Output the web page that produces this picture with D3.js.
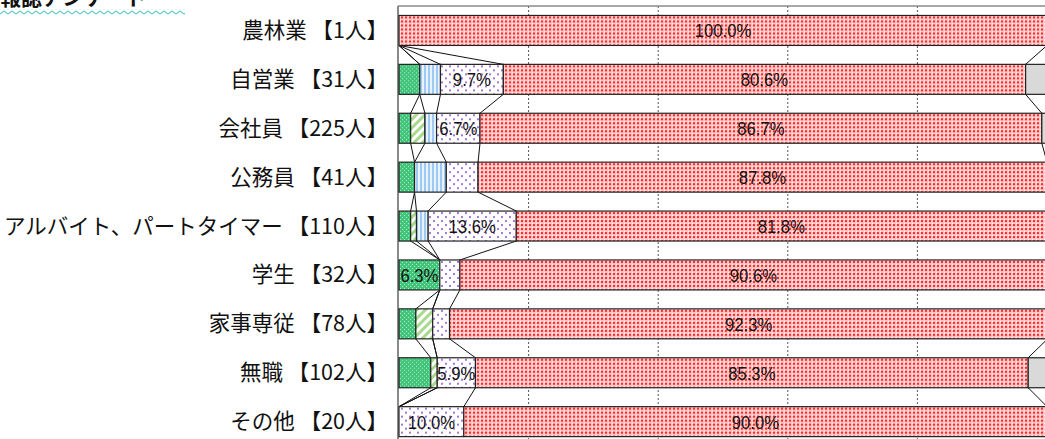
<!DOCTYPE html>
<html>
<head>
<meta charset="utf-8">
<script src="https://cdn.jsdelivr.net/npm/d3@7"></script>
<style>
  body { margin: 0; background: #fff; }
  svg { display: block; }
</style>
</head>
<body>
<div id="chart"></div>
<script>
// rows (top to bottom)
var categories = ["農林業", "自営業", "会社員", "公務員", "アルバイト、パートタイマー", "学生", "家事専従", "無職", "その他"];
var counts = [1, 31, 225, 41, 110, 32, 78, 102, 20];

// six answer series, percent of each row
var seriesNames = ["系列1", "系列2", "系列3", "系列4", "系列5", "系列6"];
var s1 = [0, 3.2, 1.8, 2.4, 1.8, 6.3, 2.6, 4.9, 0];
var s2 = [0, 0, 2.2, 0, 0.9, 0, 2.6, 1.0, 0];
var s3 = [0, 3.2, 1.8, 4.9, 1.8, 0, 0, 0, 0];
var s4 = [0, 9.7, 6.7, 4.9, 13.6, 3.1, 2.6, 5.9, 10.0];
var s5 = [100.0, 80.6, 86.7, 87.8, 81.8, 90.6, 92.3, 85.3, 90.0];
var s6 = [0, 3.2, 0.9, 0, 0, 0, 0, 2.9, 0];
var xTicks = [0, 20, 40, 60, 80, 100];

var title = "情報誌アンケート";

var svgW = 1045, svgH = 439;
var margin = { top: 6, left: 399 };

var svg = d3.select("#chart").append("svg")
    .attr("width", svgW).attr("height", svgH);

var defs = svg.append("defs");

// green: small checks
var p0 = defs.append("pattern").attr("id", "pat0").attr("patternUnits", "userSpaceOnUse")
    .attr("width", 4).attr("height", 4);
p0.append("rect").attr("width", 4).attr("height", 4).attr("fill", "#3fc47a");
p0.append("rect").attr("x", 0).attr("y", 0).attr("width", 1).attr("height", 1).attr("fill", "#b8ecc9");
p0.append("rect").attr("x", 2).attr("y", 2).attr("width", 1).attr("height", 1).attr("fill", "#b8ecc9");

// light green: diagonal stripes
var p1 = defs.append("pattern").attr("id", "pat1").attr("patternUnits", "userSpaceOnUse")
    .attr("width", 6).attr("height", 6).attr("patternTransform", "rotate(45)");
p1.append("rect").attr("width", 6).attr("height", 6).attr("fill", "#fff");
p1.append("rect").attr("width", 3).attr("height", 6).attr("fill", "#a9d98c");

// light blue: vertical stripes
var p2 = defs.append("pattern").attr("id", "pat2").attr("patternUnits", "userSpaceOnUse")
    .attr("width", 4).attr("height", 4);
p2.append("rect").attr("width", 4).attr("height", 4).attr("fill", "#e8f3ff");
p2.append("rect").attr("width", 2).attr("height", 4).attr("fill", "#9ec9f2");

// purple: sparse dots
var p3 = defs.append("pattern").attr("id", "pat3").attr("patternUnits", "userSpaceOnUse")
    .attr("width", 8).attr("height", 8);
p3.append("rect").attr("width", 8).attr("height", 8).attr("fill", "#fff");
p3.append("rect").attr("x", 1).attr("y", 1).attr("width", 2).attr("height", 2).attr("fill", "#a57ad6");
p3.append("rect").attr("x", 5).attr("y", 5).attr("width", 2).attr("height", 2).attr("fill", "#a57ad6");

// red: dense dots
var p4 = defs.append("pattern").attr("id", "pat4").attr("patternUnits", "userSpaceOnUse")
    .attr("width", 4).attr("height", 4);
p4.append("rect").attr("width", 4).attr("height", 4).attr("fill", "#ffc4c4");
p4.append("rect").attr("x", 1).attr("y", 1).attr("width", 2).attr("height", 2).attr("fill", "#ff2b2b");
p4.append("rect").attr("x", 0).attr("y", 0).attr("width", 1).attr("height", 1).attr("fill", "#fff");

var fills = ["url(#pat0)", "url(#pat1)", "url(#pat2)", "url(#pat3)", "url(#pat4)", "#d9d9d9"];

// zigzag band under the title
var pz = defs.append("pattern").attr("id", "zig").attr("patternUnits", "userSpaceOnUse")
    .attr("width", 8).attr("height", 5);
pz.append("path").attr("d", "M0,4 L4,1 L8,4").attr("fill", "none")
    .attr("stroke", "#6cc9cc").attr("stroke-width", 1.3);

svg.append("rect").attr("x", 0).attr("y", 9).attr("width", 185).attr("height", 6)
    .attr("fill", "url(#zig)");
svg.append("text").attr("x", -21).attr("y", 5)
    .attr("font-family", "Noto Sans CJK JP").attr("font-weight", "bold")
    .attr("font-size", 21).attr("fill", "#111").text(title);

// build table
var series = [s1, s2, s3, s4, s5, s6];
var rows = categories.map(function(c, i) {
    var cum = 0;
    var segs = series.map(function(s, k) {
        var seg = { k: k, v: s[i], x0: cum, x1: cum + s[i] };
        cum += s[i];
        return seg;
    });
    return { name: c, n: counts[i], segs: segs };
});

var x = d3.scaleLinear().domain([0, 100]).range([margin.left, margin.left + 648]);
var y = d3.scaleBand().domain(d3.range(categories.length))
    .range([margin.top, margin.top + 9 * 48.9])
    .paddingInner(0.387).paddingOuter(0.1935);

// grid
svg.append("g").selectAll("line").data(xTicks.slice(1)).enter().append("line")
    .attr("x1", d => x(d)).attr("x2", d => x(d))
    .attr("y1", margin.top).attr("y2", svgH)
    .attr("stroke", "#555").attr("stroke-width", 1).attr("stroke-dasharray", "2,2");

// plot border
svg.append("line").attr("x1", x(0) - 1).attr("x2", svgW).attr("y1", margin.top).attr("y2", margin.top)
    .attr("stroke", "#8a8a8a").attr("stroke-width", 1.5);
svg.append("line").attr("x1", x(0) - 1).attr("x2", x(0) - 1).attr("y1", margin.top).attr("y2", svgH)
    .attr("stroke", "#8a8a8a").attr("stroke-width", 2);

// series lines between neighbouring bars
var bh = y.bandwidth();
var links = [];
for (var i = 0; i < rows.length - 1; i++) {
    for (var k = 0; k < series.length; k++) {
        links.push({ a: rows[i].segs[k].x1, b: rows[i + 1].segs[k].x1, i: i });
    }
}
svg.append("g").selectAll("line").data(links).enter().append("line")
    .attr("x1", d => x(d.a)).attr("y1", d => y(d.i) + bh)
    .attr("x2", d => x(d.b)).attr("y2", d => y(d.i + 1))
    .attr("stroke", "#111").attr("stroke-width", 1);

// bars
var rowG = svg.append("g").selectAll("g").data(rows).enter().append("g")
    .attr("transform", (d, i) => `translate(0, ${y(i)})`);

rowG.selectAll("rect").data(d => d.segs.filter(s => s.v > 0)).enter().append("rect")
    .attr("x", d => x(d.x0)).attr("y", 0)
    .attr("width", d => x(d.x1) - x(d.x0)).attr("height", bh)
    .attr("fill", d => fills[d.k])
    .attr("stroke", "#222").attr("stroke-width", 1.2);

// value labels, slightly condensed
rowG.selectAll("text.val").data(d => d.segs.filter(s => s.v >= 5)).enter().append("text")
    .attr("class", "val")
    .attr("transform", d => `translate(${(x(d.x0) + x(d.x1)) / 2}, ${bh / 2 + 7}) scale(0.88, 1)`)
    .attr("text-anchor", "middle")
    .attr("font-family", "Liberation Sans, Arial, sans-serif").attr("font-size", 19)
    .attr("fill", "#111")
    .text(d => d.v.toFixed(1) + "%");

// row labels
rowG.append("text")
    .attr("x", 388).attr("y", bh / 2 + 7.5)
    .attr("text-anchor", "end")
    .attr("font-family", "Noto Sans CJK JP").attr("font-size", 21.5)
    .attr("fill", "#111")
    .text(d => d.name + " 【" + d.n + "人】");
</script>
</body>
</html>
